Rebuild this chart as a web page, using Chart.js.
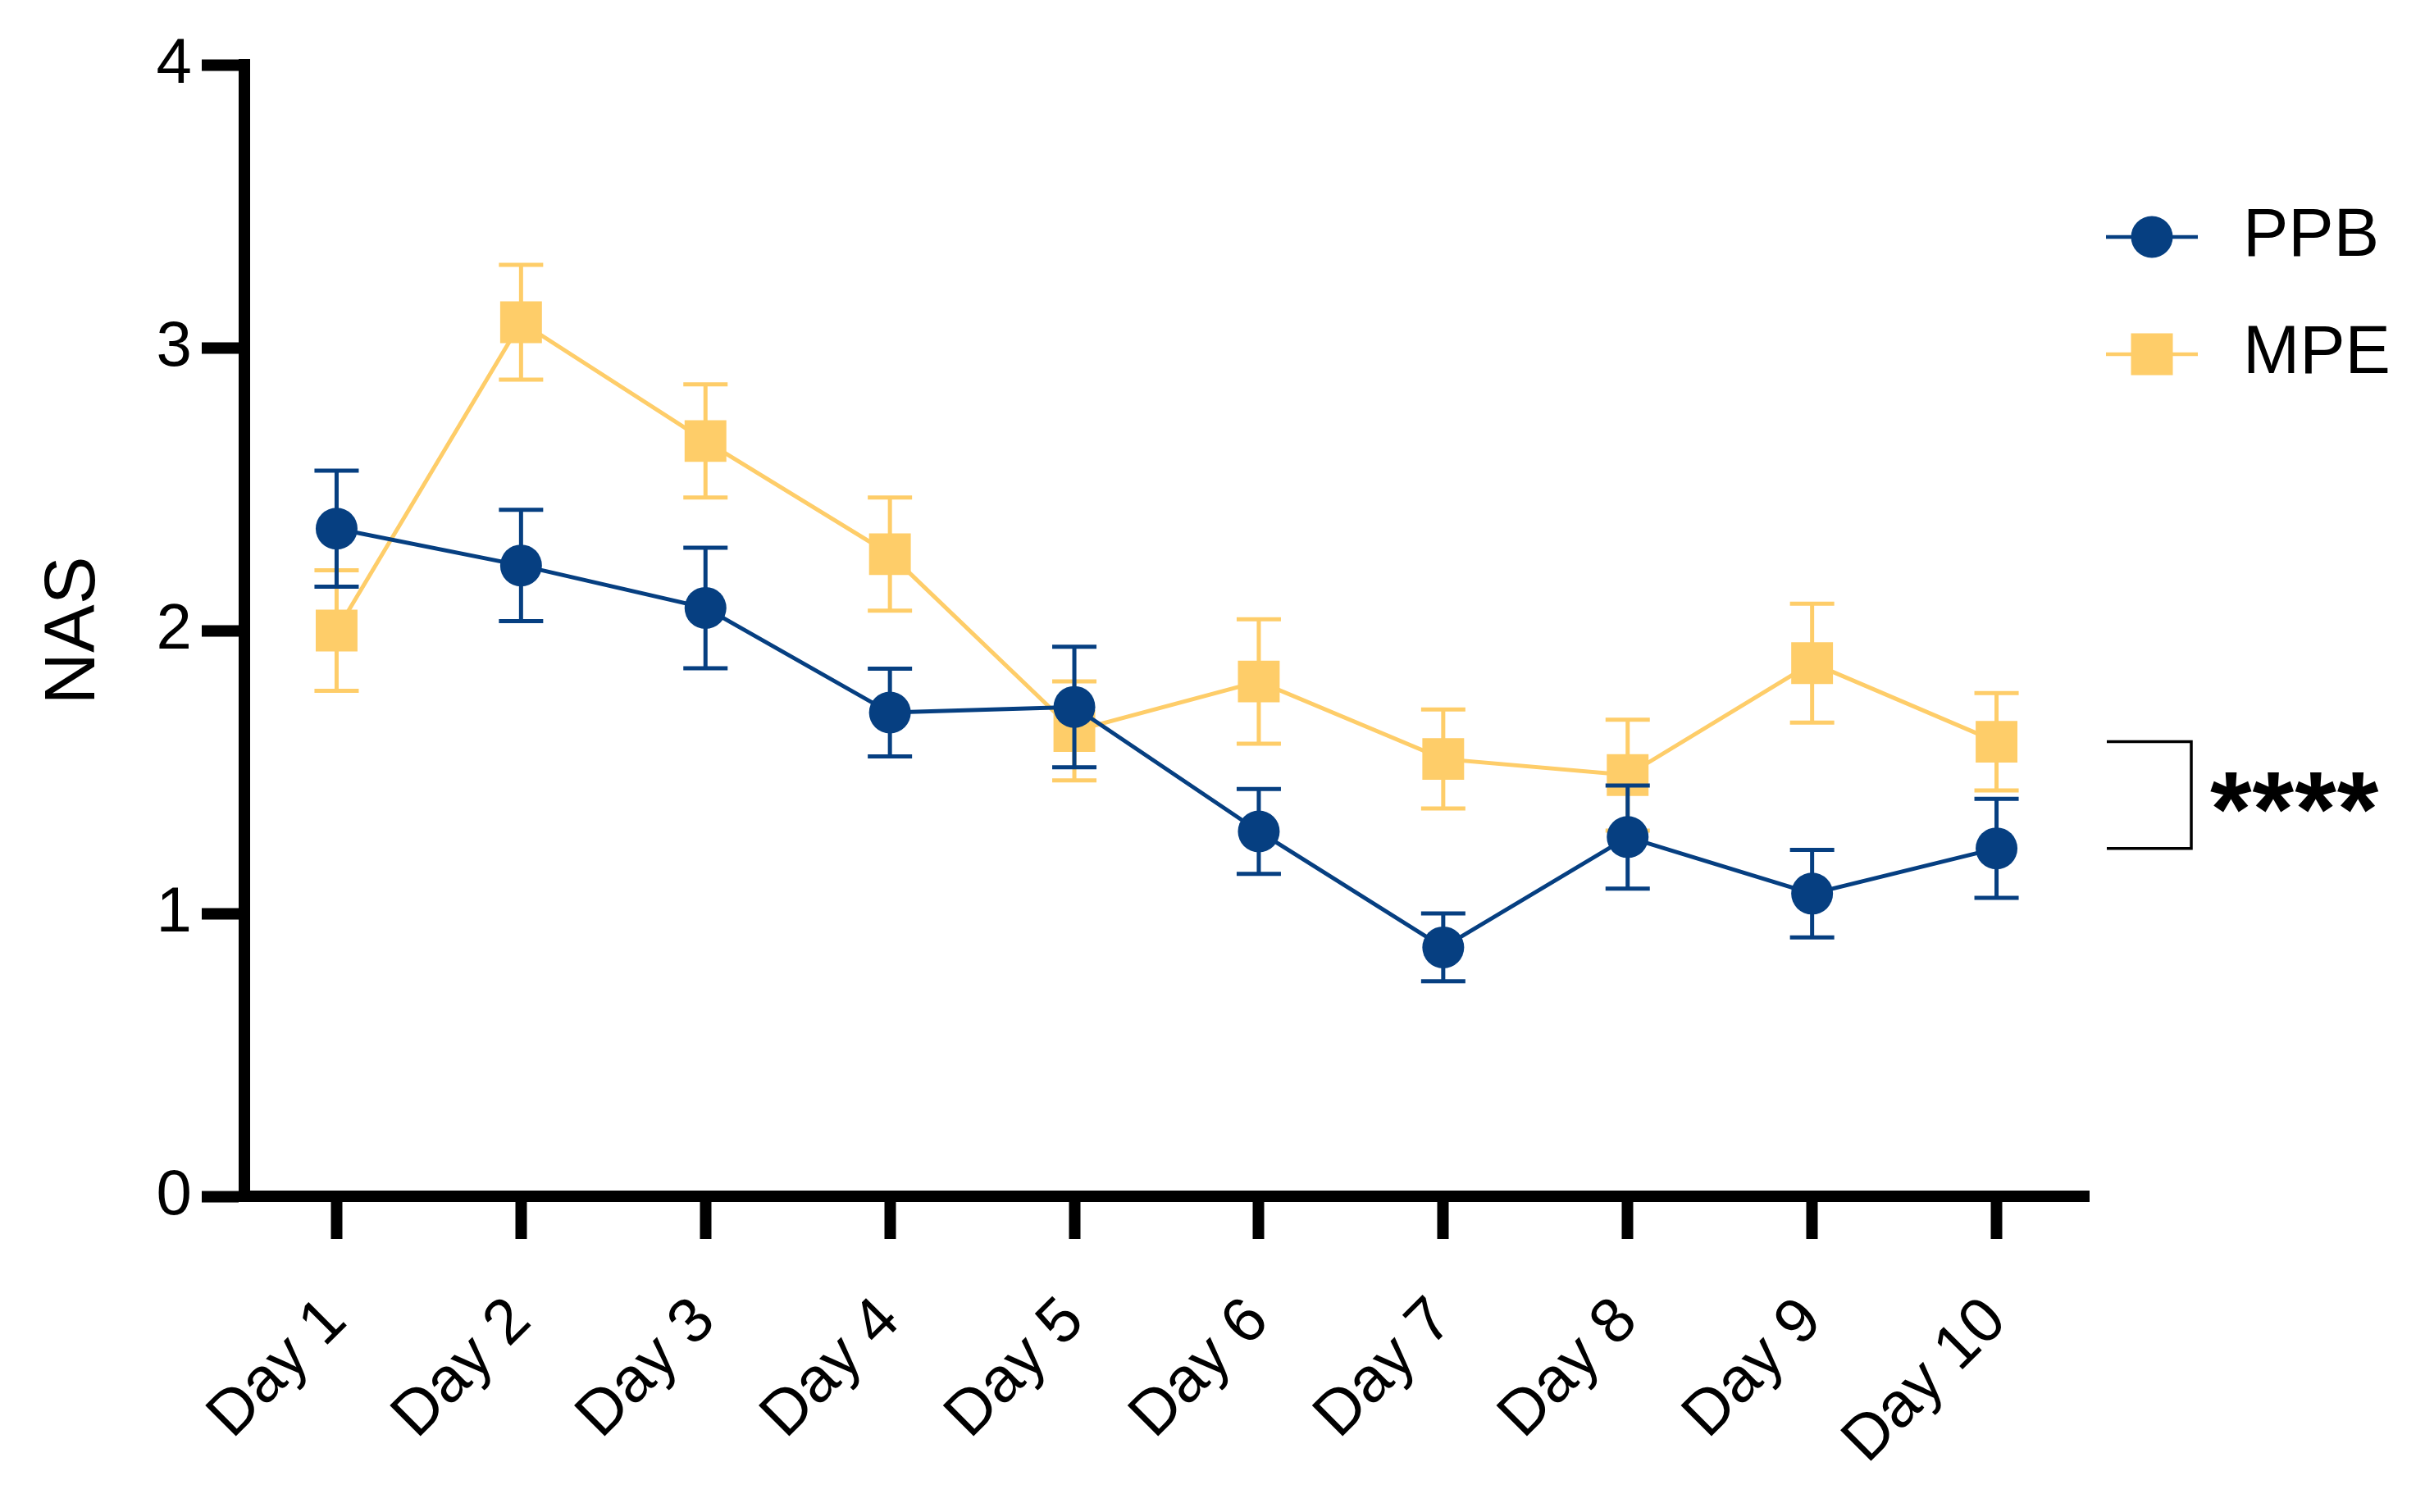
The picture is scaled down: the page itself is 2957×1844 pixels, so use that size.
<!DOCTYPE html>
<html>
<head>
<meta charset="utf-8">
<script src="https://cdn.jsdelivr.net/npm/chart.js@4/dist/chart.umd.min.js"></script>
<style>
html,body{margin:0;padding:0;background:#fff;}
#c{display:block;}
</style>
</head>
<body>
<canvas id="c" width="2957" height="1844"></canvas>
<script>
const categories = ['Day 1','Day 2','Day 3','Day 4','Day 5','Day 6','Day 7','Day 8','Day 9','Day 10'];
const ppbMean = [2.36, 2.23, 2.08, 1.71, 1.73, 1.29, 0.88, 1.27, 1.07, 1.23];
const ppbErr  = [0.205, 0.197, 0.213, 0.155, 0.213, 0.15, 0.12, 0.182, 0.155, 0.175];
const mpeMean = [2.00, 3.09, 2.67, 2.27, 1.645, 1.82, 1.546, 1.489, 1.885, 1.607];
const mpeErr  = [0.213, 0.203, 0.2, 0.2, 0.175, 0.22, 0.175, 0.196, 0.21, 0.172];
const yTicks = [0, 1, 2, 3, 4];
const seriesNames = ['PPB', 'MPE'];
const sigLabel = '****';

const BLUE = '#063F81';
const YELLOW = '#FECD69';
const FONT = '"Liberation Sans", Arial, Helvetica, sans-serif';
const errs = [ppbErr, mpeErr];

const errorBars = {
  id: 'errorBars',
  beforeDatasetDraw(chart, args) {
    const i = args.index;
    const ds = chart.data.datasets[i];
    const meta = chart.getDatasetMeta(i);
    const y = chart.scales.y;
    const ctx = chart.ctx;
    ctx.save();
    ctx.strokeStyle = ds.borderColor;
    ctx.lineWidth = 5;
    ctx.lineCap = 'butt';
    meta.data.forEach((pt, j) => {
      const m = ds.data[j], e = errs[i][j];
      const yt = y.getPixelForValue(m + e), yb = y.getPixelForValue(m - e);
      const x = pt.x, hw = 27;
      ctx.beginPath();
      ctx.moveTo(x, yt); ctx.lineTo(x, yb);
      ctx.moveTo(x - hw, yt); ctx.lineTo(x + hw, yt);
      ctx.moveTo(x - hw, yb); ctx.lineTo(x + hw, yb);
      ctx.stroke();
    });
    ctx.restore();
  }
};

const extras = {
  id: 'extras',
  afterDraw(chart) {
    const ctx = chart.ctx;
    const y = chart.scales.y;
    ctx.save();
    // legend
    const items = [
      {name: seriesNames[0], color: BLUE, style: 'circle', cy: 289},
      {name: seriesNames[1], color: YELLOW, style: 'rect', cy: 432}
    ];
    items.forEach(it => {
      ctx.strokeStyle = it.color; ctx.fillStyle = it.color; ctx.lineWidth = 4.5;
      ctx.beginPath(); ctx.moveTo(2568, it.cy); ctx.lineTo(2680, it.cy); ctx.stroke();
      if (it.style === 'circle') {
        ctx.beginPath(); ctx.arc(2624, it.cy, 25.5, 0, Math.PI * 2); ctx.fill();
      } else {
        ctx.fillRect(2624 - 25.5, it.cy - 25.5, 51, 51);
      }
      ctx.fillStyle = '#000';
      ctx.font = '83px ' + FONT;
      ctx.textBaseline = 'middle';
      ctx.textAlign = 'left';
      ctx.fillText(it.name, 2735, it.cy);
    });
    // significance bracket
    const yTop = y.getPixelForValue(mpeMean[mpeMean.length - 1]);
    const yBot = y.getPixelForValue(ppbMean[ppbMean.length - 1]);
    ctx.strokeStyle = '#000'; ctx.lineWidth = 3.5;
    ctx.beginPath();
    ctx.moveTo(2569, yTop); ctx.lineTo(2672, yTop); ctx.lineTo(2672, yBot); ctx.lineTo(2569, yBot);
    ctx.stroke();
    ctx.fillStyle = '#000';
    const F = 130;
    ctx.font = 'bold ' + F + 'px ' + FONT;
    ctx.textAlign = 'left';
    ctx.textBaseline = 'alphabetic';
    try { ctx.letterSpacing = '1px'; } catch (e) {}
    const mid = (yTop + yBot) / 2;
    ctx.fillText(sigLabel, 2695, mid + 0.497 * F - 2);
    ctx.restore();
  }
};

new Chart(document.getElementById('c'), {
  type: 'line',
  data: {
    labels: categories,
    datasets: [
      {
        label: seriesNames[0], data: ppbMean,
        borderColor: BLUE, backgroundColor: BLUE, borderWidth: 5,
        pointStyle: 'circle', pointRadius: 25.5, pointHoverRadius: 25.5,
        pointBackgroundColor: BLUE, pointBorderColor: BLUE, pointBorderWidth: 0,
        tension: 0, clip: false
      },
      {
        label: seriesNames[1], data: mpeMean,
        borderColor: YELLOW, backgroundColor: YELLOW, borderWidth: 5,
        pointStyle: 'rect', pointRadius: 36, pointHoverRadius: 36,
        pointBackgroundColor: YELLOW, pointBorderColor: YELLOW, pointBorderWidth: 0,
        tension: 0, clip: false
      }
    ]
  },
  options: {
    responsive: false,
    animation: false,
    devicePixelRatio: 1,
    events: [],
    layout: { padding: { top: 79, right: 410, bottom: 0, left: 0 } },
    plugins: { legend: { display: false }, tooltip: { enabled: false } },
    scales: {
      x: {
        type: 'category',
        offset: true,
        grid: { display: true, drawOnChartArea: false, drawTicks: true, tickLength: 52, tickWidth: 14, tickColor: '#000', offset: false },
        border: { display: true, color: '#000', width: 14 },
        ticks: { color: '#000', font: { family: FONT, size: 77 }, minRotation: 45, maxRotation: 45, autoSkip: false, padding: 55 },
        afterFit(s) { s.height = 385; }
      },
      y: {
        min: 0, max: 4,
        afterBuildTicks(s) { s.ticks = yTicks.map(v => ({ value: v })); },
        grid: { display: true, drawOnChartArea: false, drawTicks: true, tickLength: 52, tickWidth: 14, tickColor: '#000' },
        border: { display: true, color: '#000', width: 14 },
        ticks: { color: '#000', font: { family: FONT, size: 78 }, padding: 12 },
        title: { display: true, text: 'NAS', color: '#000', font: { family: FONT, size: 88 }, padding: { top: 38, bottom: 0 } },
        afterFit(s) { s.width = 298; }
      }
    }
  },
  plugins: [errorBars, extras]
});
</script>
</body>
</html>
